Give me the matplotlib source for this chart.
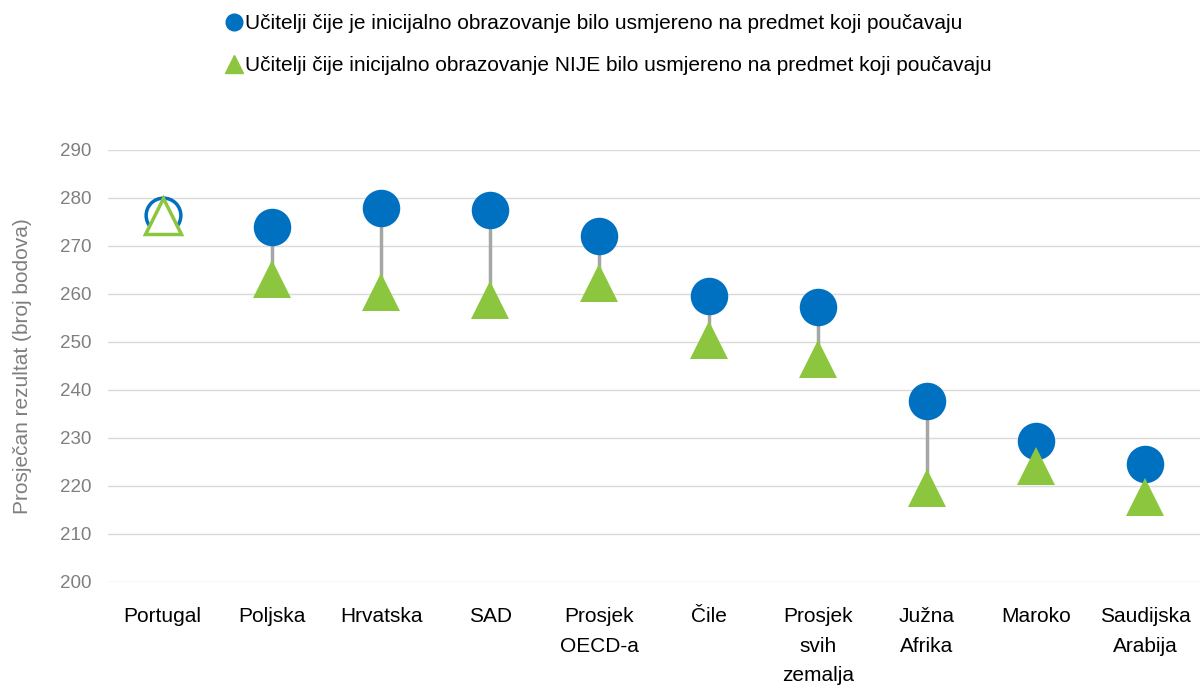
import matplotlib.pyplot as plt
from matplotlib.lines import Line2D

# values
countries = ['Portugal', 'Poljska', 'Hrvatska', 'SAD', 'Prosjek\nOECD-a', 'Čile',
             'Prosjek\nsvih\nzemalja', 'Južna\nAfrika', 'Maroko', 'Saudijska\nArabija']
aligned = [276.4, 274.0, 277.9, 277.5, 272.1, 259.6, 257.3, 237.7, 229.4, 224.6]
not_aligned = [276.2, 263.2, 260.4, 258.8, 262.3, 250.4, 246.5, 219.6, 224.2, 217.7]
hollow = ['Portugal']

label_aligned = 'Učitelji čije je inicijalno obrazovanje bilo usmjereno na predmet koji poučavaju'
label_not = 'Učitelji čije inicijalno obrazovanje NIJE bilo usmjereno na predmet koji poučavaju'

BLUE = '#0070C0'
GREEN = '#8CC63F'

plt.rcParams['font.family'] = ['Liberation Sans', 'DejaVu Sans']

fig = plt.figure(figsize=(12, 6.86), dpi=100)
ax = fig.add_axes([0.09, 1 - 582 / 686, 0.91, (582 - 150) / 686])

x = list(range(len(countries)))
for i, name in enumerate(countries):
    # connector between the two markers
    ax.plot([i, i], [aligned[i], not_aligned[i]], color='#A6A6A6', lw=2.5, zorder=2)
    if name in hollow:
        ax.plot(i, aligned[i], marker='o', ms=25, mfc='white', mec=BLUE, mew=2.5, zorder=3)
        ax.plot(i, not_aligned[i], marker='^', ms=26.5, mfc='white', mec=GREEN, mew=2.5, zorder=4)
    else:
        ax.plot(i, aligned[i], marker='o', ms=27, color=BLUE, mew=0, zorder=3)
        ax.plot(i, not_aligned[i], marker='^', ms=28, color=GREEN, mew=0, zorder=4)

ax.set_xlim(-0.5, len(countries) - 0.5)
ax.set_ylim(200, 290)
ax.set_yticks(range(200, 291, 10))
ax.set_xticks(x)
ax.set_xticklabels(countries, fontsize=15, color='#000000', linespacing=1.7)
ax.tick_params(axis='x', length=0, pad=18)
ax.tick_params(axis='y', length=0, pad=12, labelsize=13.5, labelcolor='#7F7F7F')
ax.grid(axis='y', color='#D9D9D9', lw=1)
ax.set_axisbelow(True)
for s in ax.spines.values():
    s.set_visible(False)
ax.set_ylabel('Prosječan rezultat (broj bodova)', fontsize=15, color='#7F7F7F', labelpad=20)

handles = [
    Line2D([], [], marker='o', ls='', color=BLUE, ms=12),
    Line2D([], [], marker='^', ls='', color=GREEN, ms=13),
]
fig.legend(handles, [label_aligned, label_not], loc='upper center',
           bbox_to_anchor=(0.508, 1.007), frameon=False, fontsize=15,
           handlelength=0.6, handletextpad=0.2, labelspacing=1.1)

fig.savefig('out.png', dpi=100)
